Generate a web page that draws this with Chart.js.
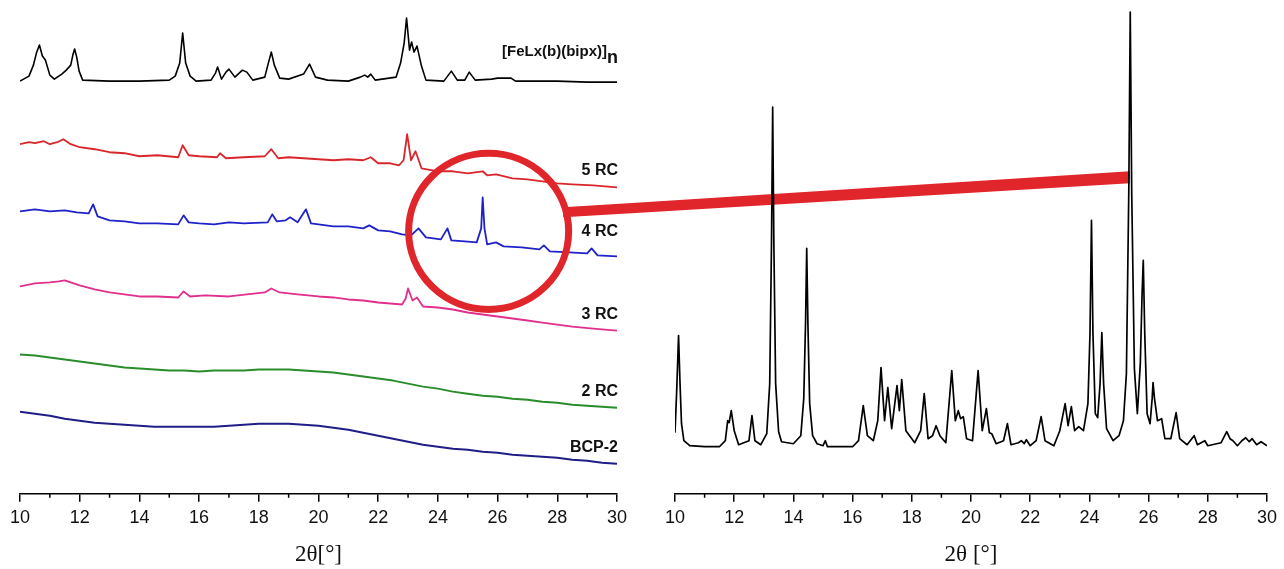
<!DOCTYPE html>
<html>
<head>
<meta charset="utf-8">
<script src="https://cdn.jsdelivr.net/npm/chart.js@4.4.1/dist/chart.umd.min.js"></script>
<style>
  html, body { margin: 0; padding: 0; background: #fff; }
  #wrap { position: relative; width: 1284px; height: 569px; overflow: hidden; background: #fff; }
  #leftBox { position: absolute; left: 0; top: 0; width: 640px; height: 569px; }
  #rightBox { position: absolute; left: 640px; top: 0; width: 644px; height: 569px; }
</style>
</head>
<body>
<div id="wrap">
  <div id="leftBox"><canvas id="leftChart" width="640" height="569"></canvas></div>
  <div id="rightBox"><canvas id="rightChart" width="644" height="569"></canvas></div>
</div>
<script>
/*Axis range (2 theta, degrees)*/
var xMin = 10, xMax = 30, xStep = 2;
var yMax = 488;

/*Left panel - stacked patterns (offset intensity, a.u.)*/
var feTheta = [10.0, 10.3, 10.45, 10.55, 10.65, 10.75, 10.85, 11.0, 11.15, 11.4, 11.55, 11.7, 11.77, 11.83, 11.9, 11.98, 12.1, 13.0, 14.0, 15.0, 15.2, 15.35, 15.45, 15.55, 15.7, 15.9, 16.4, 16.55, 16.62, 16.75, 16.9, 17.0, 17.2, 17.45, 17.6, 17.8, 18.2, 18.32, 18.42, 18.52, 18.7, 19.0, 19.5, 19.7, 19.9, 20.3, 21.0, 21.4, 21.55, 21.65, 21.75, 21.9, 22.6, 22.75, 22.87, 22.95, 23.05, 23.12, 23.2, 23.3, 23.45, 23.6, 24.2, 24.45, 24.65, 24.9, 25.05, 25.25, 25.8, 26.0, 26.45, 26.6, 28.0, 29.0, 30.0];
var feInt   = [412, 417, 428, 440, 448, 437, 433, 418, 414, 419, 423, 428, 438, 444, 436, 422, 413, 412, 412, 413, 417, 430, 460, 430, 417, 412, 413, 420, 426, 414, 421, 424, 416, 423, 421, 413, 416, 430, 441, 428, 415, 414, 419, 429, 416, 413, 412, 416, 418, 416, 419, 413, 416, 430, 450, 475, 443, 451, 441, 447, 427, 413, 412, 422, 413, 413, 421, 413, 414, 415, 415, 412, 412, 411, 411];

var rc5Theta = [10.0, 10.3, 10.5, 10.8, 11.0, 11.25, 11.45, 11.7, 12.0, 12.5, 13.0, 13.5, 14.0, 14.6, 15.3, 15.45, 15.65, 16.0, 16.6, 16.7, 16.9, 17.5, 18.2, 18.42, 18.65, 19.0, 19.5, 20.0, 20.5, 21.0, 21.5, 21.75, 22.0, 22.4, 22.7, 22.85, 22.97, 23.1, 23.25, 23.45, 24.0, 24.5, 25.0, 25.5, 25.65, 25.95, 26.5, 27.0, 27.5, 28.0, 28.5, 29.2, 30.0];
var rc5Int   = [349, 351, 350, 352, 349, 351, 354, 349, 346, 344, 341, 340, 337, 338, 336, 348, 338, 337, 336, 340, 335, 336, 337, 344, 335, 336, 335, 334, 333, 334, 333, 336, 330, 330, 328, 333, 359, 333, 342, 325, 322, 322, 320, 322, 318, 319, 315, 314, 312, 310, 309, 308, 306];

var rc4Theta = [10.0, 10.5, 11.0, 11.5, 11.9, 12.3, 12.45, 12.6, 13.0, 13.5, 14.0, 14.6, 15.3, 15.48, 15.65, 16.0, 16.5, 17.0, 17.5, 18.3, 18.45, 18.6, 18.9, 19.05, 19.3, 19.58, 19.75, 20.0, 20.5, 21.0, 21.5, 21.7, 22.0, 22.4, 22.8, 23.1, 23.35, 23.6, 24.1, 24.32, 24.45, 24.9, 25.3, 25.45, 25.5, 25.56, 25.65, 25.95, 26.2, 26.8, 27.4, 27.55, 27.75, 28.4, 29.0, 29.15, 29.35, 30.0];
var rc4Int   = [282, 284, 282, 283, 281, 280, 289, 277, 273, 272, 270, 270, 269, 278, 271, 270, 269, 271, 270, 271, 279, 272, 273, 276, 271, 284, 270, 269, 267, 267, 265, 268, 263, 262, 259, 258, 265, 256, 254, 265, 253, 252, 251, 265, 296, 265, 249, 251, 247, 246, 244, 248, 242, 241, 240, 245, 238, 237];

var rc3Theta = [10.0, 10.5, 11.0, 11.3, 11.5, 11.8, 12.0, 12.5, 13.0, 13.5, 14.0, 14.6, 15.3, 15.48, 15.7, 16.2, 17.0, 17.6, 18.2, 18.42, 18.7, 19.3, 20.0, 20.5, 21.0, 21.5, 22.0, 22.4, 22.8, 22.92, 23.0, 23.15, 23.3, 23.5, 24.0, 24.5, 25.0, 25.5, 26.0, 26.5, 27.0, 27.5, 28.0, 28.5, 29.2, 30.0];
var rc3Int   = [207, 210, 211, 212, 213, 210, 208, 204, 201, 199, 197, 197, 196, 202, 197, 198, 197, 199, 201, 205, 201, 199, 197, 196, 194, 193, 191, 190, 189, 195, 205, 193, 196, 187, 186, 184, 181, 179, 177, 175, 173, 171, 169, 167, 165, 163];

var rc2Theta = [10, 10.5, 11, 11.5, 12, 12.5, 13, 13.5, 14, 14.5, 15, 15.5, 16, 16.5, 17, 17.5, 18, 18.5, 19, 19.5, 20, 20.5, 21, 21.5, 22, 22.5, 23, 23.5, 24, 24.5, 25, 25.5, 26, 26.5, 27, 27.5, 28, 28.5, 29, 29.5, 30];
var rc2Int   = [139, 138, 136, 134, 132, 130, 128, 126, 125, 124, 123, 123, 122, 123, 123, 123, 124, 124, 124, 123, 122, 121, 119, 117, 115, 113, 110, 107, 105, 102, 100, 98, 97, 95, 94, 92, 91, 89, 88, 87, 86];

var bcpTheta = [10, 10.5, 11, 11.5, 12, 12.5, 13, 13.5, 14, 14.5, 15, 15.5, 16, 16.5, 17, 17.5, 18, 18.5, 19, 19.5, 20, 20.5, 21, 21.5, 22, 22.5, 23, 23.5, 24, 24.5, 25, 25.5, 26, 26.5, 27, 27.5, 28, 28.5, 29, 29.5, 30];
var bcpInt   = [82, 80, 78, 75, 73, 71, 70, 69, 68, 67, 67, 67, 67, 67, 68, 69, 70, 70, 70, 69, 68, 66, 64, 61, 58, 55, 52, 49, 47, 45, 44, 42, 41, 39, 38, 37, 36, 34, 33, 31, 30];

/*Right panel - reference pattern*/
var refTheta = [10.0, 10.06, 10.12, 10.17, 10.22, 10.3, 10.5, 11.0, 11.5, 11.7, 11.78, 11.83, 11.9, 12.0, 12.15, 12.5, 12.6, 12.7, 12.9, 13.1, 13.2, 13.26, 13.3, 13.34, 13.4, 13.5, 13.6, 14.0, 14.25, 14.35, 14.41, 14.45, 14.49, 14.55, 14.65, 14.8, 15.0, 15.08, 15.15, 16.0, 16.2, 16.36, 16.5, 16.7, 16.85, 16.96, 17.08, 17.19, 17.32, 17.5, 17.58, 17.66, 17.8, 18.1, 18.3, 18.42, 18.55, 18.7, 18.82, 18.95, 19.15, 19.35, 19.47, 19.57, 19.65, 19.74, 19.85, 20.05, 20.24, 20.38, 20.52, 20.62, 20.7, 20.85, 21.1, 21.23, 21.35, 21.6, 21.7, 21.8, 21.87, 22.0, 22.2, 22.37, 22.5, 22.8, 23.0, 23.18, 23.28, 23.39, 23.5, 23.64, 23.8, 23.95, 24.02, 24.07, 24.12, 24.2, 24.28, 24.36, 24.42, 24.48, 24.58, 24.8, 25.0, 25.15, 25.25, 25.33, 25.38, 25.43, 25.52, 25.62, 25.72, 25.78, 25.82, 25.87, 25.95, 26.05, 26.12, 26.15, 26.2, 26.3, 26.44, 26.55, 26.75, 26.93, 27.05, 27.3, 27.54, 27.65, 27.9, 28.0, 28.45, 28.64, 28.75, 28.85, 29.0, 29.15, 29.28, 29.4, 29.5, 29.65, 29.8, 30.0];
var refInt   = [61, 105, 158, 110, 70, 53, 48, 47, 47, 53, 73, 71, 83, 63, 49, 53, 78, 53, 49, 60, 110, 250, 386, 250, 110, 62, 52, 50, 58, 95, 170, 245, 170, 90, 58, 50, 48, 53, 47, 47, 53, 88, 58, 53, 73, 126, 73, 106, 65, 108, 83, 114, 63, 51, 63, 100, 55, 58, 68, 58, 51, 123, 73, 83, 75, 77, 55, 53, 123, 63, 85, 61, 60, 50, 53, 70, 49, 51, 53, 50, 54, 48, 53, 77, 53, 48, 63, 90, 68, 87, 63, 67, 63, 90, 160, 273, 160, 80, 76, 110, 161, 110, 65, 53, 58, 73, 120, 300, 481, 300, 125, 80, 130, 200, 233, 160, 80, 70, 95, 111, 95, 73, 75, 55, 55, 81, 55, 49, 58, 49, 53, 48, 51, 62, 55, 53, 48, 53, 56, 52, 55, 49, 52, 48];

/*Trace labels*/
var traceNames  = ['5 RC', '4 RC', '3 RC', '2 RC', 'BCP-2'];
var traceLevels = [323, 262, 179, 102, 46];
var feLabel = '[FeLx(b)(bipx)]', feSub = 'n', feLevel = 441;

/*Magnifier mark: circle on left panel, link to right panel peak*/
var circleTheta = 25.7, circleLevel = 262, circleSpan = [2.68, 78];
var linkStart = [28.33, 281], linkEnd = [25.37, 316];

var colors = ['#000000', '#d9262b', '#1f22c8', '#e0308c', '#2a8c2a', '#1e1e86'];
var markRed = '#e0262b';
var sansFont = "'Liberation Sans', Arial, sans-serif";
var serifFont = "'Liberation Serif', 'Times New Roman', serif";
var RIGHT_OFFSET = 640;

var leftChart, rightChart;

/*Utils*/
function toPoints(theta, values) {
    return theta.map(function(t, i) { return { x: t, y: values[i] }; });
}
function lineSet(theta, values, color, width) {
    return {
        data: toPoints(theta, values),
        borderColor: color,
        borderWidth: width,
        pointRadius: 0,
        tension: 0,
        borderJoinStyle: 'round',
        fill: false
    };
}
function xScale(title) {
    return {
        type: 'linear',
        min: xMin,
        max: xMax,
        border: { display: true, color: '#000', width: 1.5 },
        grid: { display: true, drawOnChartArea: false, drawTicks: true, tickLength: 8, color: '#000', lineWidth: 1.5 },
        ticks: { stepSize: xStep, color: '#111', padding: 5, maxRotation: 0, font: { family: sansFont, size: 18 } },
        title: { display: true, text: title, color: '#111', padding: { top: 8, bottom: 0 }, font: { family: serifFont, size: 23 } }
    };
}

/*Minor ticks at odd degrees*/
var minorTicks = {
    id: 'minorTicks',
    afterDraw: function(chart) {
        var sx = chart.scales.x, ctx = chart.ctx;
        ctx.save();
        ctx.strokeStyle = '#000';
        ctx.lineWidth = 1.5;
        for (var v = xMin + xStep / 2; v < xMax; v += xStep) {
            var px = sx.getPixelForValue(v);
            ctx.beginPath();
            ctx.moveTo(px, sx.top);
            ctx.lineTo(px, sx.top + 4);
            ctx.stroke();
        }
        ctx.restore();
    }
};

/*Red link (under the traces) and circle (over the traces)*/
function drawLink(chart, offsetX) {
    if (!leftChart || !rightChart) return;
    var lx = leftChart.scales.x, ly = leftChart.scales.y;
    var rx = rightChart.scales.x, ry = rightChart.scales.y;
    var x1 = lx.getPixelForValue(linkStart[0]), y1 = ly.getPixelForValue(linkStart[1]);
    var x2 = rx.getPixelForValue(linkEnd[0]) + RIGHT_OFFSET, y2 = ry.getPixelForValue(linkEnd[1]);
    var ctx = chart.ctx;
    ctx.save();
    ctx.translate(-offsetX, 0);
    ctx.fillStyle = markRed;
    ctx.beginPath();
    ctx.moveTo(x1 - 4, y1 - 5);
    ctx.lineTo(x2, y2 - 6);
    ctx.lineTo(x2, y2 + 6);
    ctx.lineTo(x1 - 4, y1 + 5);
    ctx.closePath();
    ctx.fill();
    ctx.restore();
}
function drawCircle(chart) {
    var lx = chart.scales.x, ly = chart.scales.y, ctx = chart.ctx;
    var cx = lx.getPixelForValue(circleTheta), cy = ly.getPixelForValue(circleLevel);
    var radX = lx.getPixelForValue(circleTheta + circleSpan[0]) - cx;
    var radY = cy - ly.getPixelForValue(circleLevel + circleSpan[1]);
    ctx.save();
    ctx.strokeStyle = markRed;
    ctx.lineWidth = 7;
    ctx.beginPath();
    ctx.ellipse(cx, cy, radX, radY, 0, 0, Math.PI * 2);
    ctx.stroke();
    ctx.restore();
}

var leftMarks = {
    id: 'leftMarks',
    beforeDatasetsDraw: function(chart) { drawLink(chart, 0); },
    afterDatasetsDraw: function(chart) { drawCircle(chart); }
};
var rightMarks = { id: 'rightMarks', beforeDatasetsDraw: function(chart) { drawLink(chart, RIGHT_OFFSET); } };

/*Labels at the right end of each stacked trace*/
var traceLabels = {
    id: 'traceLabels',
    afterDatasetsDraw: function(chart) {
        var sx = chart.scales.x, sy = chart.scales.y, ctx = chart.ctx;
        var right = sx.getPixelForValue(xMax) + 1;
        ctx.save();
        ctx.fillStyle = '#111';
        ctx.textAlign = 'right';
        ctx.textBaseline = 'middle';
        ctx.font = 'bold 16px ' + sansFont;
        traceNames.forEach(function(name, i) {
            ctx.fillText(name, right, sy.getPixelForValue(traceLevels[i]));
        });
        /*[FeLx(b)(bipx)]n with subscript*/
        var fy = sy.getPixelForValue(feLevel);
        ctx.font = 'bold 18px ' + sansFont;
        var subW = ctx.measureText(feSub).width;
        ctx.fillText(feSub, right, fy + 6);
        ctx.font = 'bold 15px ' + sansFont;
        ctx.fillText(feLabel, right - subW, fy);
        ctx.restore();
    }
};

var baseOptions = function(title, pad) {
    return {
        responsive: false,
        animation: false,
        parsing: false,
        layout: { padding: pad },
        plugins: { legend: { display: false }, tooltip: { enabled: false } },
        scales: {
            x: xScale(title),
            y: { type: 'linear', display: false, min: 0, max: yMax }
        }
    };
};

/*Left chart*/
leftChart = new Chart(document.getElementById('leftChart').getContext('2d'), {
    type: 'line',
    data: {
        datasets: [
            lineSet(feTheta, feInt, colors[0], 1.6),
            lineSet(rc5Theta, rc5Int, colors[1], 1.8),
            lineSet(rc4Theta, rc4Int, colors[2], 1.8),
            lineSet(rc3Theta, rc3Int, colors[3], 1.8),
            lineSet(rc2Theta, rc2Int, colors[4], 2),
            lineSet(bcpTheta, bcpInt, colors[5], 2)
        ]
    },
    options: baseOptions('2\u03B8[\u00B0]', { left: 20, right: 23, top: 5, bottom: 0 }),
    plugins: [minorTicks, leftMarks, traceLabels]
});

/*Right chart*/
rightChart = new Chart(document.getElementById('rightChart').getContext('2d'), {
    type: 'line',
    data: { datasets: [lineSet(refTheta, refInt, colors[0], 1.7)] },
    options: baseOptions('2\u03B8 [\u00B0]', { left: 35, right: 17, top: 5, bottom: 0 }),
    plugins: [minorTicks, rightMarks]
});

/*Trigger redraw now that both scales exist*/
leftChart.draw();
rightChart.draw();
</script>
</body>
</html>
